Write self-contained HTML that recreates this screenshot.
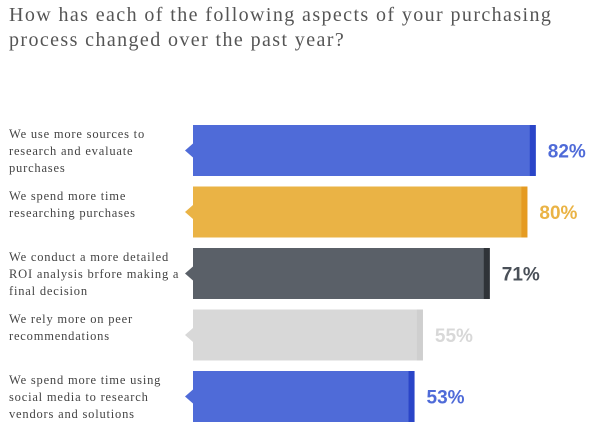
<!DOCTYPE html>
<html><head><meta charset="utf-8"><style>
body{margin:0;width:601px;height:429px;background:#fff;overflow:hidden;position:relative;font-family:"Liberation Serif",serif}
#title{position:absolute;left:9px;top:3px;font-size:20px;letter-spacing:1.4px;line-height:25px;color:#555;margin:0;font-weight:normal}
.lab{position:absolute;left:9px;font-size:12.5px;letter-spacing:0.8px;line-height:17px;color:#444}
</style></head><body>
<h1 id="title">How has each of the following aspects of your purchasing<br>process changed over the past year?</h1>
<svg id="chart" width="601" height="429" style="position:absolute;left:0;top:0"></svg>
<div id="labels"></div>
<script>
const categories=["We use more sources to<br>research and evaluate<br>purchases","We spend more time<br>researching purchases","We conduct a more detailed<br>ROI analysis brfore making a<br>final decision","We rely more on peer<br>recommendations","We spend more time using<br>social media to research<br>vendors and solutions"];
const values=[82,80,71,55,53];
const valueLabels=["82%","80%","71%","55%","53%"];
const fills=["#4f6bd8","#eab345","#5a6068","#d8d8d8","#4f6bd8"];
const caps=["#2a45c8","#e59b22","#2f3338","#cfcfcf","#2a45c8"];
const textCols=["#4f6bd8","#eab345","#4a5058","#d8d8d8","#4f6bd8"];
const x0=193, pxPer=4.18, top0=125, pitch=61.5, bh=51;
const xs=v=>x0+v*pxPer;
const svg=document.getElementById('chart'), ns='http://www.w3.org/2000/svg';
const labs=document.getElementById('labels');
values.forEach((v,i)=>{
  const y=top0+i*pitch, x1=xs(v), cy=y+bh/2;
  const r=document.createElementNS(ns,'rect');
  
  
  r.setAttribute('x',x0);r.setAttribute('y',y);r.setAttribute('width',x1-x0);r.setAttribute('height',bh);r.setAttribute('fill',fills[i]);svg.appendChild(r);
  const c=document.createElementNS(ns,'rect');
  
  
  c.setAttribute('x',x1-6);c.setAttribute('y',y);c.setAttribute('width',6);c.setAttribute('height',bh);c.setAttribute('fill',caps[i]);svg.appendChild(c);
  const t=document.createElementNS(ns,'polygon');
  
  
  t.setAttribute('points',`${x0},${cy-7} ${x0-8},${cy} ${x0},${cy+7}`);t.setAttribute('fill',fills[i]);svg.appendChild(t);
  const tx=document.createElementNS(ns,'text');
  
  
  tx.setAttribute('x',x1+12);tx.setAttribute('y',cy+7);tx.setAttribute('fill',textCols[i]);
  tx.setAttribute('font-family','Liberation Sans, sans-serif');tx.setAttribute('font-weight','bold');tx.setAttribute('font-size','19');
  tx.textContent=valueLabels[i];svg.appendChild(tx);
  const d=document.createElement('div');
  
  
  d.className='lab';d.style.top=(y+1)+'px';d.innerHTML=categories[i];labs.appendChild(d);
});
</script>
</body></html>
